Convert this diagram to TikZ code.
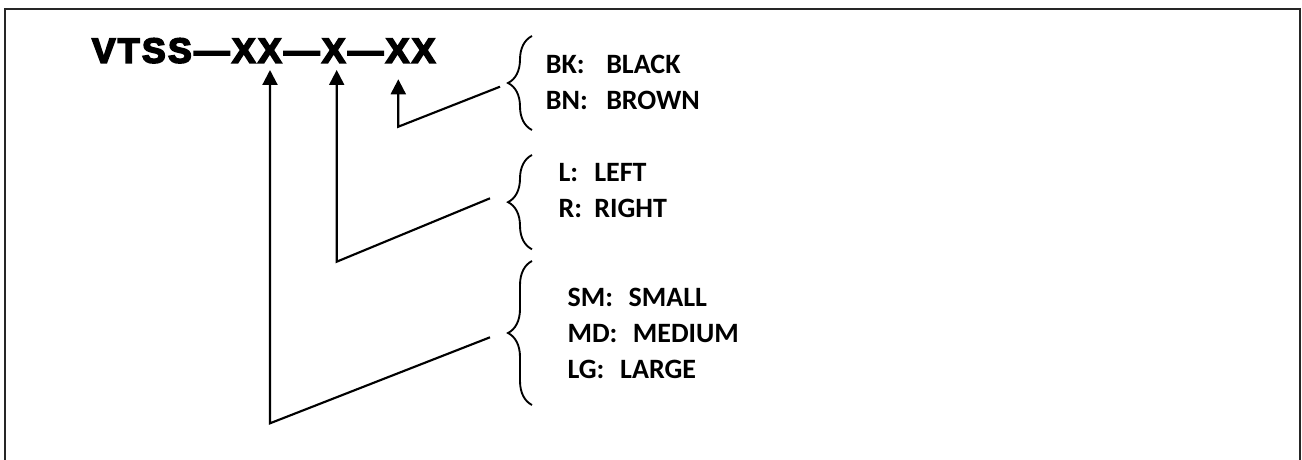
\documentclass[tikz,border=0pt]{standalone}
\usepackage{fontspec}
\usepackage{graphicx}
\usetikzlibrary{arrows.meta,decorations.pathreplacing}
\newfontfamily\heavyfont{Liberation Sans Bold}[FakeBold=5,LetterSpace=7]
\newfontfamily\lblfont{Carlito}
\begin{document}
\begin{tikzpicture}[x=0.75pt,y=-0.75pt,
  lbl/.style={anchor=base west,inner sep=0pt,font=\lblfont\bfseries\fontsize{21}{26}\selectfont},
  conn/.style={line width=1.6pt,-{Triangle[width=11.25pt,length=11.25pt]}},
  bracestyle/.style={line width=1.4pt,decorate,decoration={brace,amplitude=18pt,aspect=0.5}},
  frame/.style={line width=1.6pt,draw=black!85}]
\useasboundingbox (0,0) rectangle (1302,460);
\clip (0,0) rectangle (1302,460);
\draw[frame] (5,8.7) rectangle (1300,480);
% title
\node[anchor=base west,inner sep=0pt] (title) at (91.7,62.7)
  {\resizebox{257.5pt}{18.3pt}{\heavyfont VTSS—XX—X—XX}};
% labels
\node[lbl] (bk) at (545.7,73.3) {\makebox[45.2pt][l]{BK:}BLACK};
\node[lbl] (bn) at (545.7,109.3) {\makebox[45.2pt][l]{BN:}BROWN};
\node[lbl] (l) at (558.3,181.7) {\makebox[26.8pt][l]{L:}LEFT};
\node[lbl] (r) at (558.3,217.7) {\makebox[26.8pt][l]{R:}RIGHT};
\node[lbl] (sm) at (567.3,306.7) {\makebox[45.75pt][l]{SM:}SMALL};
\node[lbl] (md) at (567.3,342.7) {\makebox[49pt][l]{MD:}MEDIUM};
\node[lbl] (lg) at (567.3,378.3) {\makebox[39.5pt][l]{LG:}LARGE};
% braces
\draw[bracestyle] (532,130) -- (532,36);
\draw[bracestyle] (532,249.3) -- (532,155);
\draw[bracestyle] (532,405) -- (532,261);
% connector coordinates
\coordinate (a1) at (270,70);
\coordinate (a2) at (336.7,70);
\coordinate (a3) at (398.3,79.3);
\coordinate (k1) at (270,423.3);
\coordinate (k2) at (336.7,261.7);
\coordinate (k3) at (398.3,126.7);
\coordinate (c1) at (490,337.3);
\coordinate (c2) at (490,198.3);
\coordinate (c3) at (500,86.7);
\draw[conn] (c1) -- (k1) -- (a1);
\draw[conn] (c2) -- (k2) -- (a2);
\draw[conn] (c3) -- (k3) -- (a3);
\end{tikzpicture}
\end{document}
